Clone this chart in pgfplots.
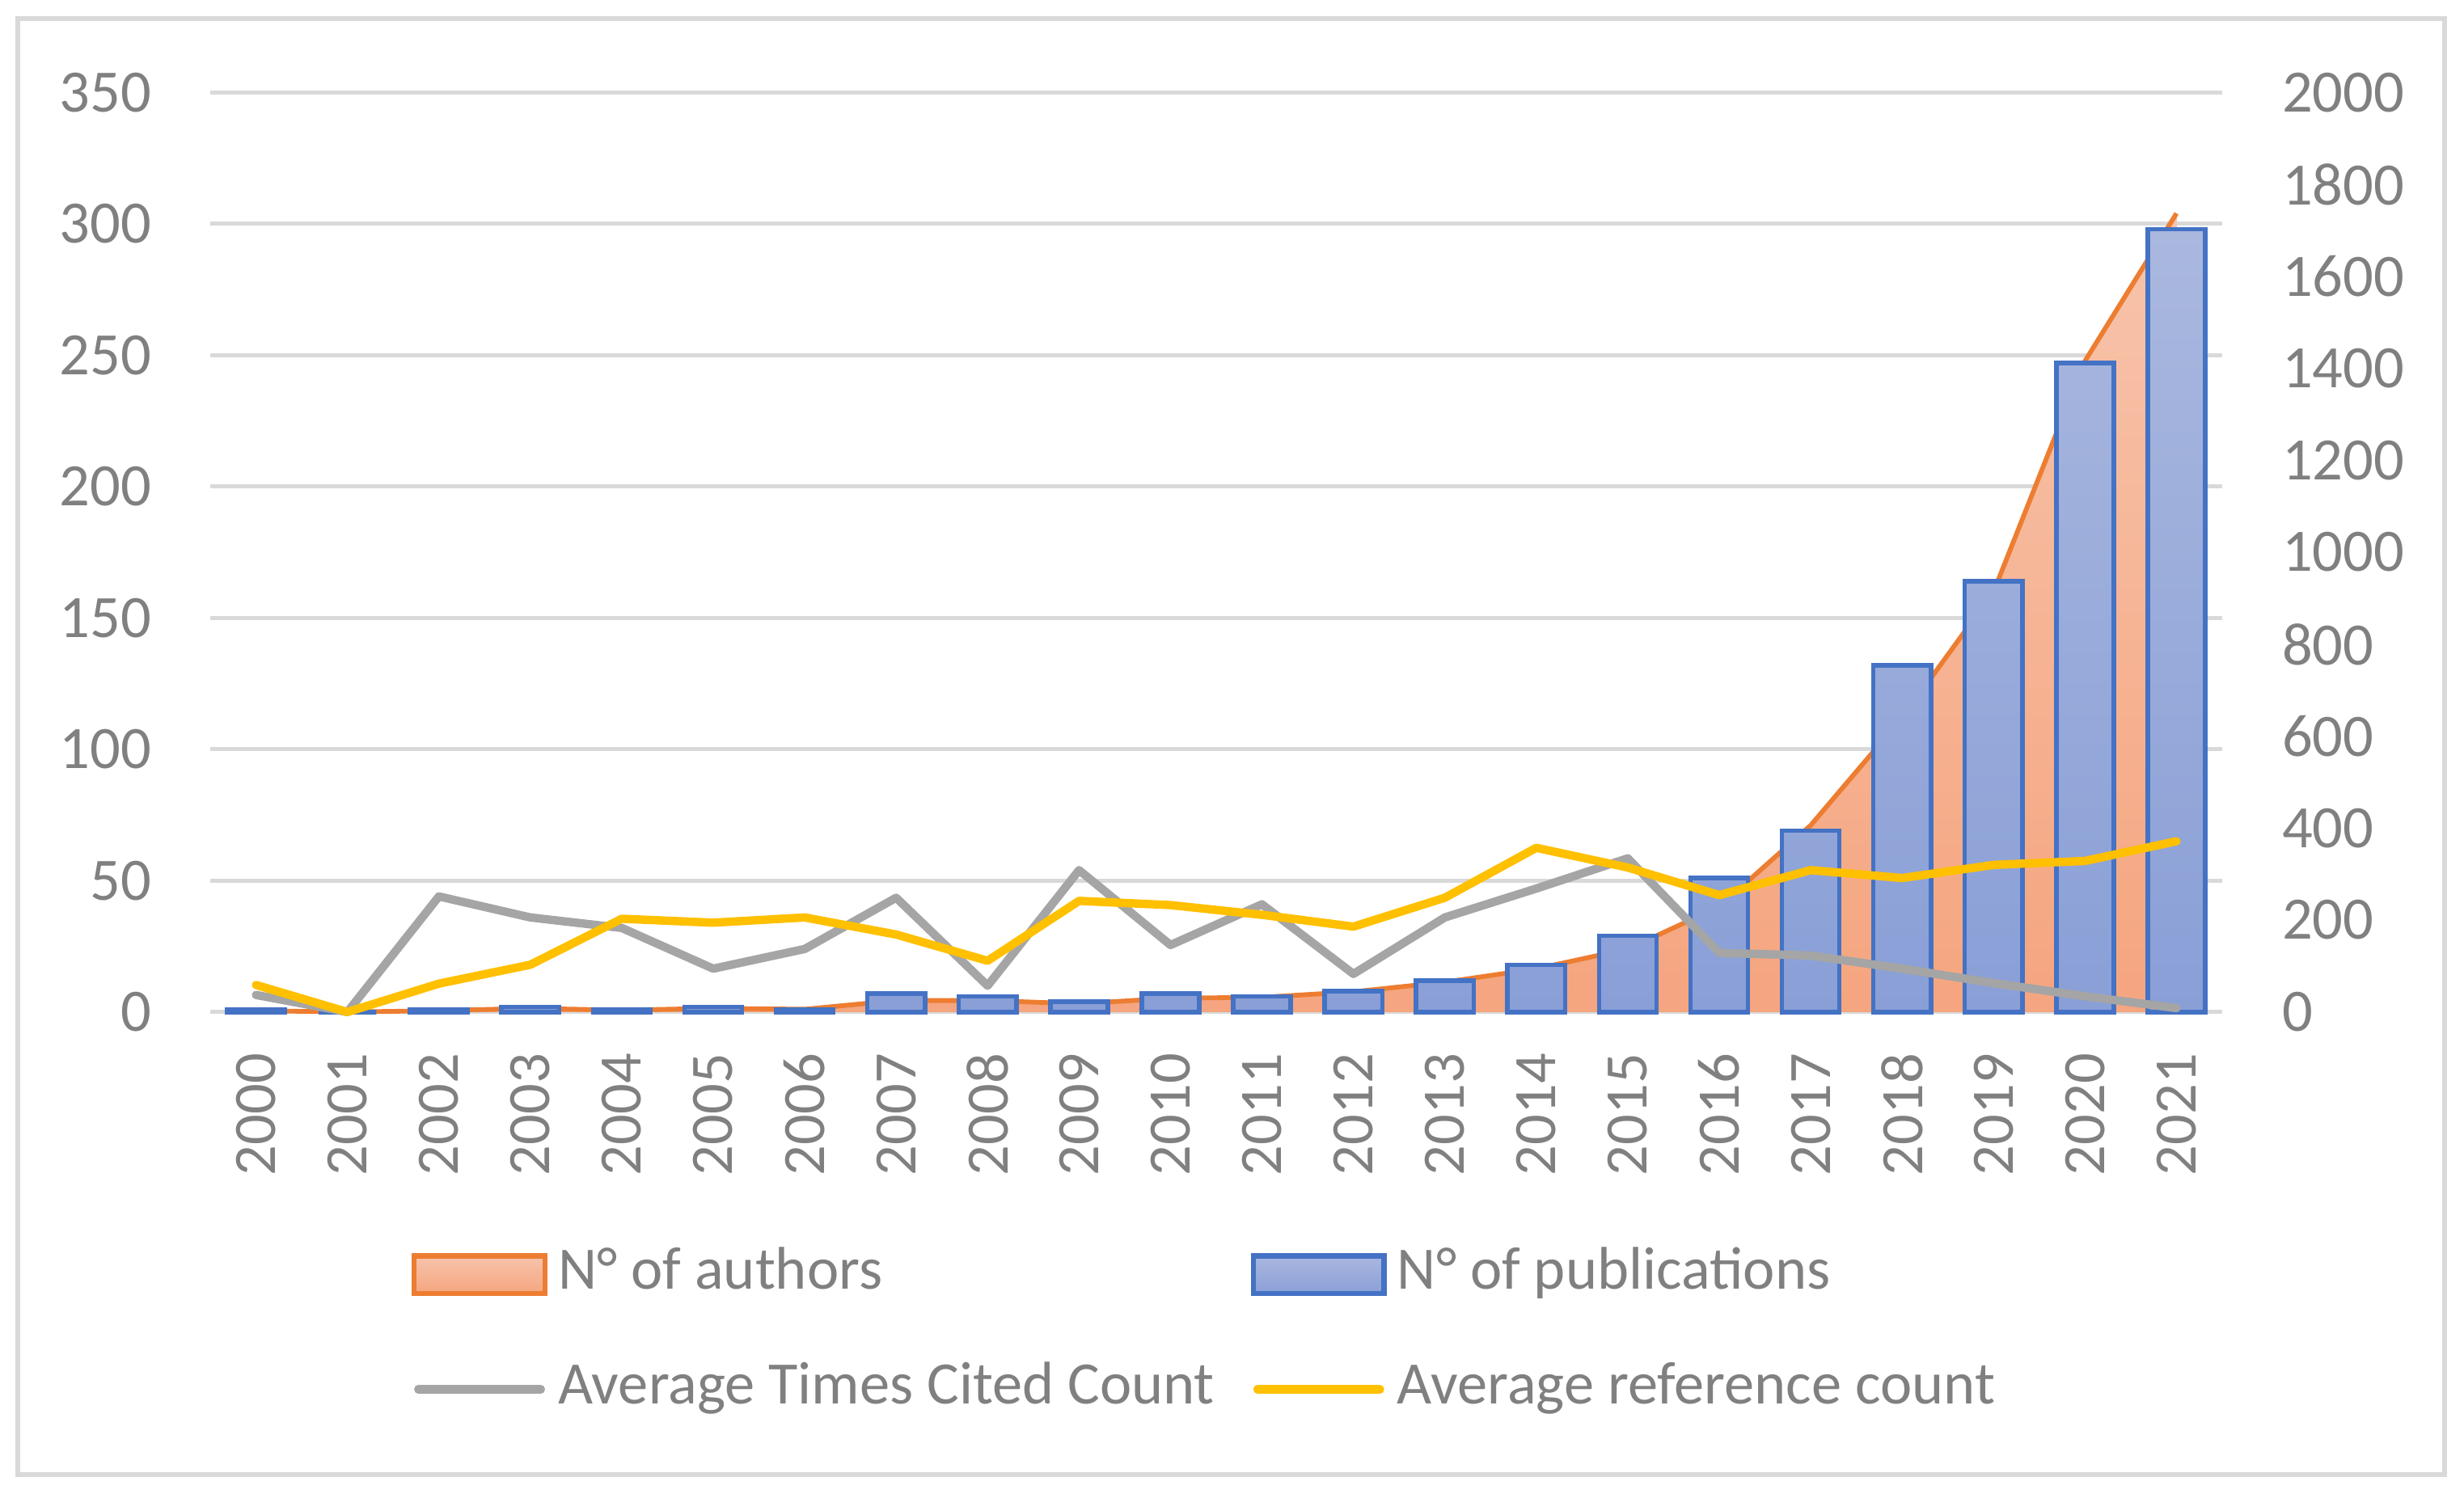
\documentclass[border=0pt]{standalone}
\usepackage{fontspec}
\setmainfont{Carlito}
\usepackage{pgfplots}
\pgfplotsset{compat=1.18}
\usepackage{pgfplotstable}

\definecolor{gridc}{RGB}{217,217,217}
\definecolor{txt}{RGB}{128,128,128}
\definecolor{blueE}{RGB}{68,114,196}
\definecolor{blueT}{RGB}{170,184,223}
\definecolor{blueB}{RGB}{137,159,214}
\definecolor{orE}{RGB}{237,125,49}
\definecolor{orT}{RGB}{247,196,172}
\definecolor{orB}{RGB}{245,165,127}
\definecolor{grayL}{RGB}{165,165,165}
\definecolor{yelL}{RGB}{255,192,0}

\pgfplotstableread{
x year pubs authors cited refs
0  2000 1   3    6.5  10.3
1  2001 0   0    0    0
2  2002 1   3    44   10.8
3  2003 2   8    36   18
4  2004 1   4    32   35.5
5  2005 2   8    16.5 34
6  2006 1   6    24   36
7  2007 7   25   43.5 29.5
8  2008 6   25   10   19.5
9  2009 4   18   54   42.3
10 2010 7   30   25.5 40.7
11 2011 6   32   41   37
12 2012 8   44   14.5 32.5
13 2013 12  65   36   43.5
14 2014 18  94   47   62.5
15 2015 29  137  58.5 55
16 2016 51  229  22.5 44.5
17 2017 69  406  21.5 54
18 2018 132 640  16.5 51
19 2019 164 914  11   56
20 2020 247 1416 6    57.5
21 2021 298 1737 1.5  65
}\data

\pgfplotsset{
  base/.style={
    scale only axis, width=384.1pt, height=175.6pt,
    at={(0pt,0pt)}, anchor=south west,
    xmin=-0.5, xmax=21.5, ymin=0,
    axis line style={draw=none},
    major tick length=0pt,
    /pgf/number format/assume math mode=true,
    /pgf/number format/1000 sep={},
    tick label style={text=txt},
    clip=false,
  }
}

\begin{document}
\fontsize{11.5}{13.8}\selectfont
\begin{tikzpicture}
\useasboundingbox (-40.14pt,-91.89pt) rectangle (430.26pt,193.26pt);
\draw[gridc, line width=0.9pt] (-36.78pt,-88.29pt) rectangle (426.6pt,189.69pt);

% axis 1: left scale, grid, x labels
\begin{axis}[base,
  ymax=350, ytick={0,50,...,350},
  ymajorgrids, grid style={gridc, line width=0.75pt},
  xtick={0,...,21},
  xticklabels={2000,2001,2002,2003,2004,2005,2006,2007,2008,2009,2010,2011,2012,2013,2014,2015,2016,2017,2018,2019,2020,2021},
  xticklabel style={rotate=90, anchor=east, inner sep=0pt},
  xticklabel shift=7.7pt,
  yticklabel style={anchor=east, inner sep=0pt},
  yticklabel shift=11.07pt,
]
\addplot[draw=none] coordinates {(0,0)};
\end{axis}

% axis 2: right scale, authors area
\begin{axis}[base,
  ymax=2000, ytick={0,200,...,2000},
  axis y line*=right, hide x axis,
  yticklabel style={anchor=west, inner sep=0pt},
  yticklabel shift=11.25pt,
]
\addplot[draw=none, top color=orT, bottom color=orB] table[x=x,y=authors]{\data} \closedcycle;
\addplot[orE, line width=0.9pt, line join=round] table[x=x,y=authors]{\data};
\end{axis}

% axis 3: bars and lines, legend
\begin{axis}[base,
  ymax=350, hide axis,
  legend columns=2,
  legend cell align=left,
  legend style={draw=none, fill=none, inner sep=0pt, outer sep=0pt,
    at={(0.1,-0.348)}, anchor=west, text=txt,
    column sep=2pt, row sep=11.4pt,
    /tikz/every even column/.append style={column sep=6.9pt},
    nodes={inner sep=0pt, text height=8pt, text depth=2.5pt}},
]
\addlegendimage{legend image code/.code={\draw[orE, line width=1pt, top color=orT, bottom color=orB] (0pt,-3.6pt) rectangle (25pt,3.6pt);}}
\addlegendentry{N° of authors}
\addplot[ybar, bar width=0.63, draw=blueE, line width=0.85pt, top color=blueT, bottom color=blueB,
  legend image code/.code={\draw[blueE, line width=1pt, top color=blueT, bottom color=blueB] (0pt,-3.6pt) rectangle (25pt,3.6pt);}]
  table[x=x,y=pubs]{\data};
\addlegendentry{N° of publications}
\addplot[grayL, line width=1.6pt, line join=round, line cap=round,
  legend image code/.code={\draw[grayL, line width=1.6pt, line cap=round] (0.8pt,0pt) -- (24.2pt,0pt);}]
  table[x=x,y=cited]{\data};
\addlegendentry{Average Times Cited Count}
\addplot[yelL, line width=1.6pt, line join=round, line cap=round,
  legend image code/.code={\draw[yelL, line width=1.6pt, line cap=round] (0.8pt,0pt) -- (24.2pt,0pt);}]
  table[x=x,y=refs]{\data};
\addlegendentry{Average reference count}
\end{axis}
\end{tikzpicture}
\end{document}
